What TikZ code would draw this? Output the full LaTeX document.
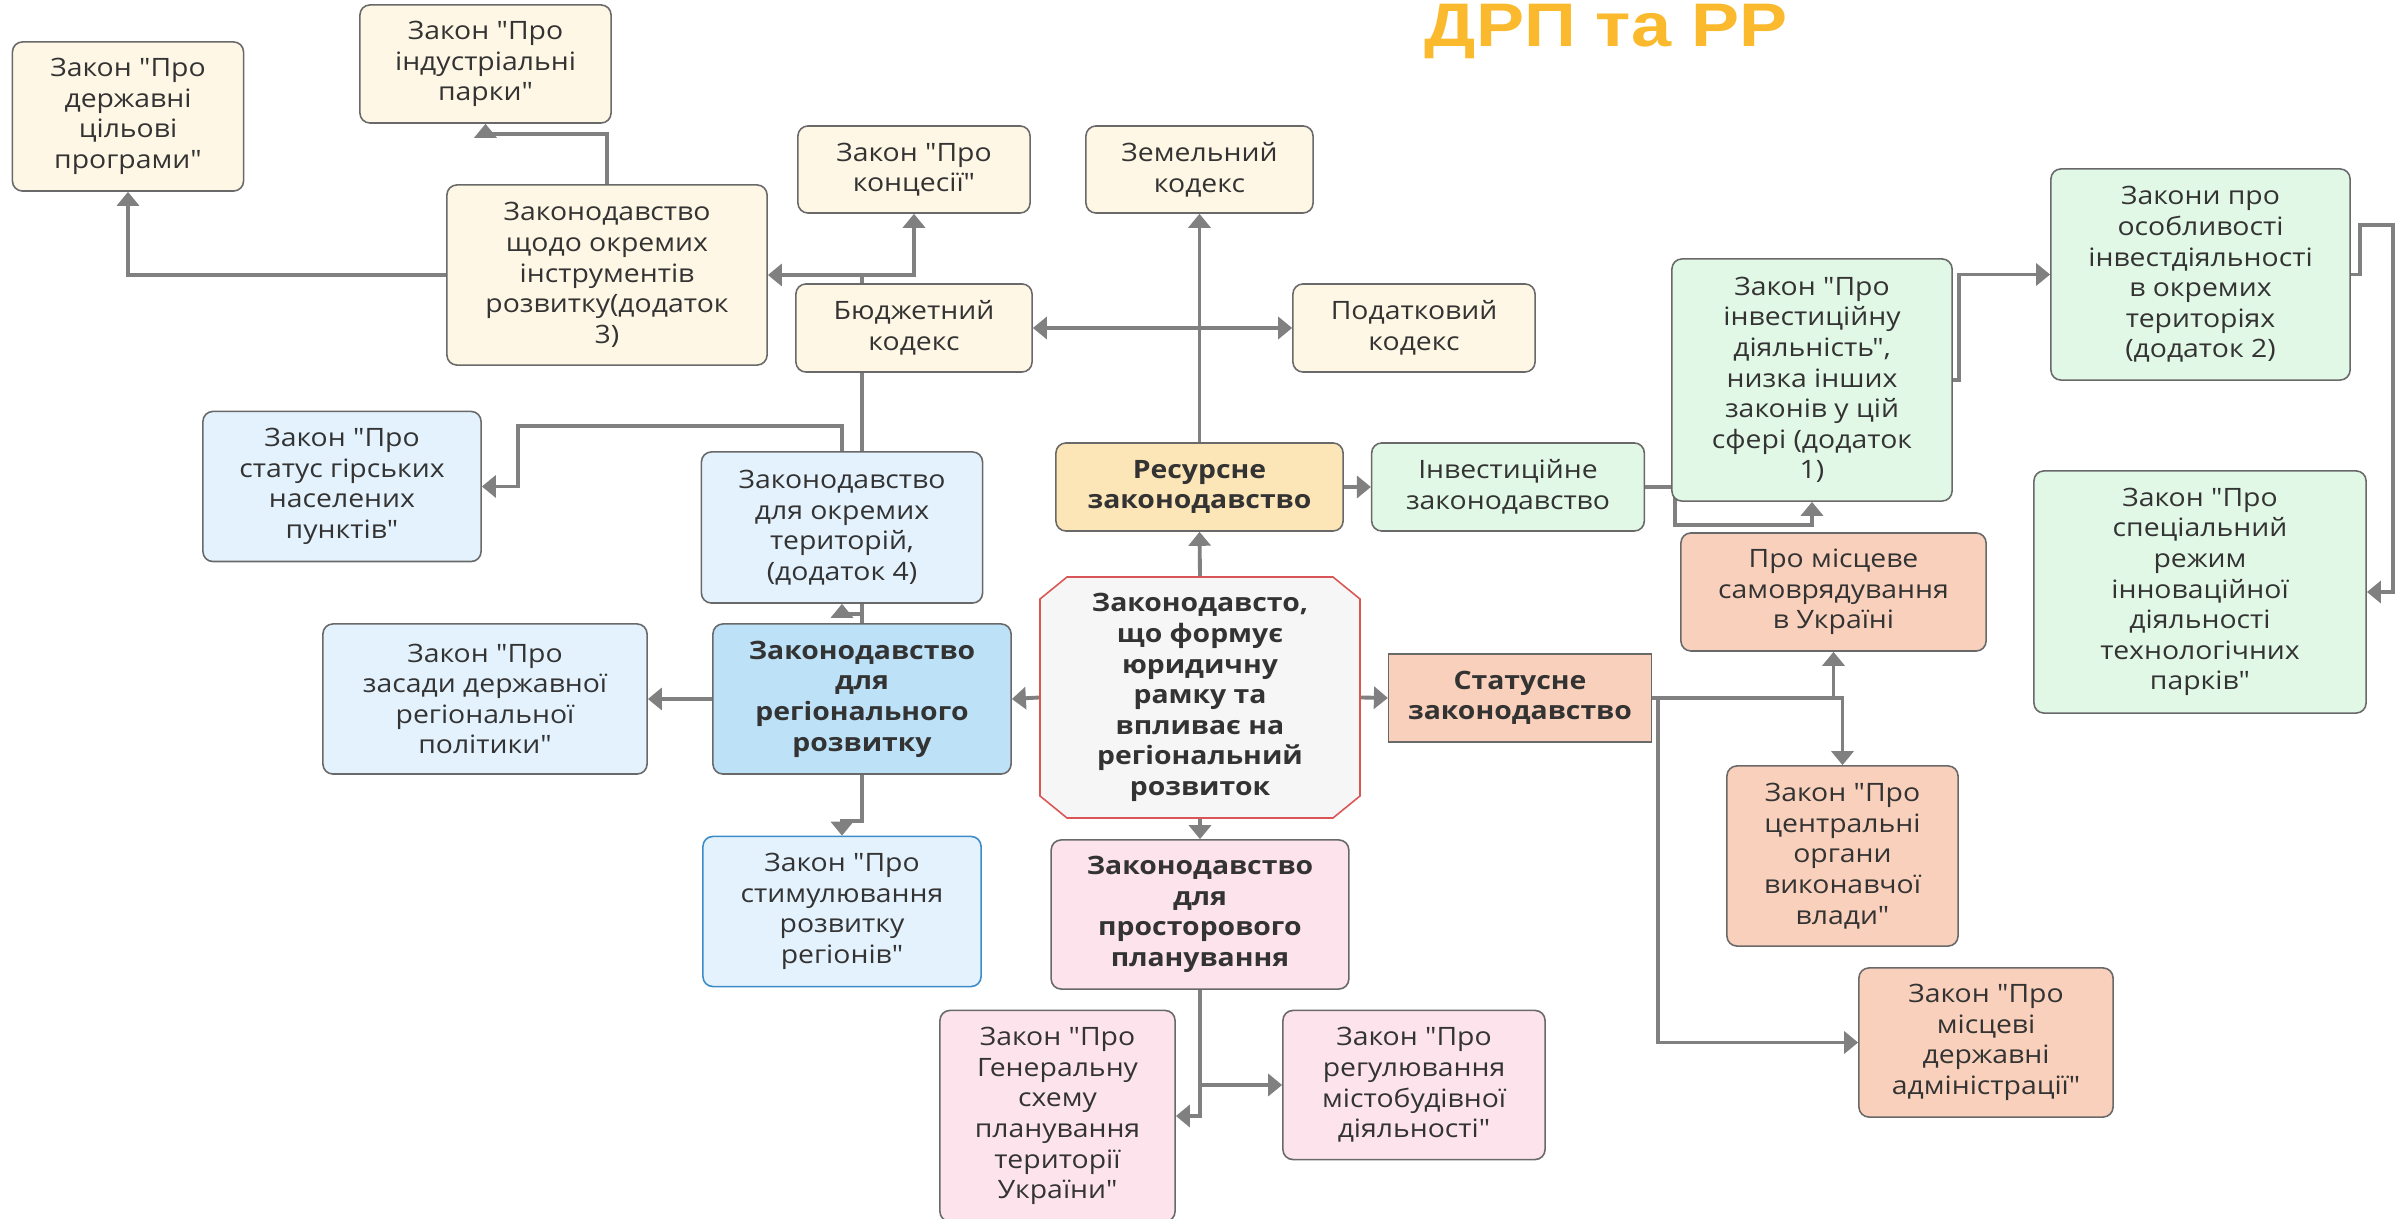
\documentclass[tikz,border=0pt]{standalone}
\usepackage{fontspec}
\setmainfont{Open Sans}[FakeStretch=1.12, Ligatures=TeXOff]
\newfontfamily\titlefont{Liberation Sans}[FakeStretch=1.17]
\usetikzlibrary{arrows.meta,backgrounds}
\definecolor{cream}{RGB}{255,247,229}
\definecolor{resfill}{RGB}{252,230,184}
\definecolor{greenfill}{RGB}{226,248,230}
\definecolor{bluefill}{RGB}{227,242,253}
\definecolor{regfill}{RGB}{189,225,247}
\definecolor{salmon}{RGB}{249,208,187}
\definecolor{pinkfill}{RGB}{253,228,236}
\definecolor{octfill}{RGB}{246,246,246}
\definecolor{octred}{RGB}{218,86,86}
\definecolor{boxgray}{RGB}{105,105,105}
\definecolor{stimblue}{RGB}{60,140,200}
\definecolor{linegray}{RGB}{128,128,128}
\definecolor{txtgray}{RGB}{51,51,51}
\definecolor{titleorange}{RGB}{251,185,46}
\tikzset{box/.style={draw=boxgray, line width=0.45pt, rounded corners=0.1cm, align=center, inner sep=0pt, text=txtgray, font=\fontsize{7.2}{8.7}\selectfont},
 bbox/.style={box, font=\fontsize{7.2}{8.7}\selectfont\bfseries},
 sz/.style 2 args={minimum width=#1cm, minimum height=#2cm},
 conn/.style={draw=linegray, line width=1.1pt, -{Triangle[length=0.14cm,width=0.22cm]}}}

\begin{document}
\begin{tikzpicture}[x=0.01cm,y=-0.01cm]
  \useasboundingbox (0,0) rectangle (2405,1219);
  \node[text=titleorange, font=\titlefont\fontsize{17.5}{20}\selectfont\bfseries, inner sep=0pt, anchor=base] (title) at (1606,47) {ДРП та РР};

  \node[box, fill=cream, sz={2.31}{1.49}] (dcp) at (128,116.5) {Закон "Про\\державні\\цільові\\програми"};
  \node[box, fill=cream, sz={2.51}{1.18}] (parks) at (485.5,64) {Закон "Про\\індустріальні\\парки"};
  \node[box, fill=cream, sz={3.20}{1.80}] (instr) at (607,275) {Законодавство\\щодо окремих\\інструментів\\розвитку(додаток\\3)};
  \node[box, fill=cream, sz={2.32}{0.87}] (conc) at (914,169.5) {Закон "Про\\концесії"};
  \node[box, fill=cream, sz={2.27}{0.87}] (land) at (1199.5,169.5) {Земельний\\кодекс};
  \node[box, fill=cream, sz={2.36}{0.88}] (budget) at (914,328) {Бюджетний\\кодекс};
  \node[box, fill=cream, sz={2.42}{0.88}] (tax) at (1414,328) {Податковий\\кодекс};
  \node[bbox, fill=resfill, sz={2.87}{0.88}] (res) at (1199.5,487) {Ресурсне\\законодавство};

  \node[box, fill=greenfill, sz={2.725}{0.88}] (inv) at (1508,487) {Інвестиційне\\законодавство};
  \node[box, fill=greenfill, sz={2.80}{2.42}] (invlaw) at (1812,380) {Закон "Про\\інвестиційну\\діяльність",\\низка інших\\законів у цій\\сфері (додаток\\1)};
  \node[box, fill=greenfill, sz={2.99}{2.11}] (special) at (2200.5,274.5) {Закони про\\особливості\\інвестдіяльності\\в окремих\\територіях\\(додаток 2)};
  \node[box, fill=greenfill, sz={3.32}{2.42}] (techparks) at (2200,592) {Закон "Про\\спеціальний\\режим\\інноваційної\\діяльності\\технологічних\\парків"};

  \node[box, fill=bluefill, sz={2.78}{1.50}] (mount) at (342,486.5) {Закон "Про\\статус гірських\\населених\\пунктів"};
  \node[box, fill=bluefill, sz={2.81}{1.51}] (terr) at (842,527.5) {Законодавство\\для окремих\\територій,\\(додаток 4)};
  \node[box, fill=bluefill, sz={3.24}{1.50}] (principles) at (485,699) {Закон "Про\\засади державної\\регіональної\\політики"};
  \node[bbox, fill=regfill, sz={2.98}{1.50}] (regdev) at (862,699) {Законодавство\\для\\регіонального\\розвитку};
  \node[box, draw=stimblue, fill=bluefill, sz={2.78}{1.50}] (stimul) at (842,911.5) {Закон "Про\\стимулювання\\розвитку\\регіонів"};

  \filldraw[draw=octred, fill=octfill, line width=0.45pt] (1067,577) -- (1333,577) -- (1360,599) -- (1360,796) -- (1333,818) -- (1067,818) -- (1040,796) -- (1040,599) -- cycle;
  \node[sz={3.20}{2.41}, align=center, inner sep=0pt, text=txtgray, font=\fontsize{7.2}{8.7}\selectfont\bfseries] (oct) at (1200,697.5) {Законодавсто,\\що формує\\юридичну\\рамку та\\впливає на\\регіональний\\розвиток};

  \node[bbox, rounded corners=0pt, fill=salmon, sz={2.625}{0.88}] (status) at (1520,698) {Статусне\\законодавство};
  \node[box, fill=salmon, sz={3.05}{1.18}] (selfgov) at (1833.5,592) {Про місцеве\\самоврядування\\в Україні};
  \node[box, fill=salmon, sz={2.31}{1.80}] (central) at (1842.5,856) {Закон "Про\\центральні\\органи\\виконавчої\\влади"};
  \node[box, fill=salmon, sz={2.54}{1.49}] (localadm) at (1986,1042.5) {Закон "Про\\місцеві\\державні\\адміністрації"};

  \node[bbox, fill=pinkfill, sz={2.975}{1.49}] (spatial) at (1200,914.5) {Законодавство\\для\\просторового\\планування};
  \node[box, fill=pinkfill, sz={2.35}{2.11}] (genplan) at (1057.5,1116) {Закон "Про\\Генеральну\\схему\\планування\\території\\України"};
  \node[box, fill=pinkfill, sz={2.62}{1.49}] (urban) at (1414,1085) {Закон "Про\\регулювання\\містобудівної\\діяльності"};

  \begin{pgfonlayer}{background}
   \draw[conn] (oct.north) -- (res.south);
   \draw[conn] (oct.west) -- (regdev.east);
   \draw[conn] (oct.east) -- (status.west);
   \draw[conn] (oct.south) -- (spatial.north);

   \draw[conn] (res.north) -- (land.south);
   \draw[conn] (res.north |- budget.east) -- (budget.east);
   \draw[conn] (res.north |- tax.west) -- (tax.west);
   \draw[conn] (res.east) -- (inv.west);
   \draw[conn] (inv.east) -- (1675,487) -- (1675,525) -| (invlaw.south);
   \draw[conn] (invlaw.east) -- (1959,380) |- (special.west);
   \draw[conn] (special.east) -- (2360,274.5) -- (2360,225) -- (2393,225) |- (techparks.east);

   \draw[conn] (status.east) -| (selfgov.south);
   \draw[conn] (status.east) -| (central.north);
   \draw[conn] (status.east) -- (1658,698) |- (localadm.west);

   \draw[conn] (regdev.west) -- (principles.east);
   \draw[conn] (regdev.south) -- (862,821) -| (stimul.north);
   \draw[conn] (regdev.north) -- (862,614) -| (terr.south);
   \draw[conn] (regdev.north) |- (instr.east);
   \draw[conn] (862,275) -| (conc.south);
   \draw[conn] (terr.north) -- (842,426) -- (518,426) |- (mount.east);
   \draw[conn] (instr.north) -- (607,134) -| (parks.south);
   \draw[conn] (instr.west) -| (dcp.south);

   \draw[conn] (spatial.south) |- (urban.west);
   \draw[conn] (spatial.south) |- (genplan.east);
  \end{pgfonlayer}
\end{tikzpicture}
\end{document}
